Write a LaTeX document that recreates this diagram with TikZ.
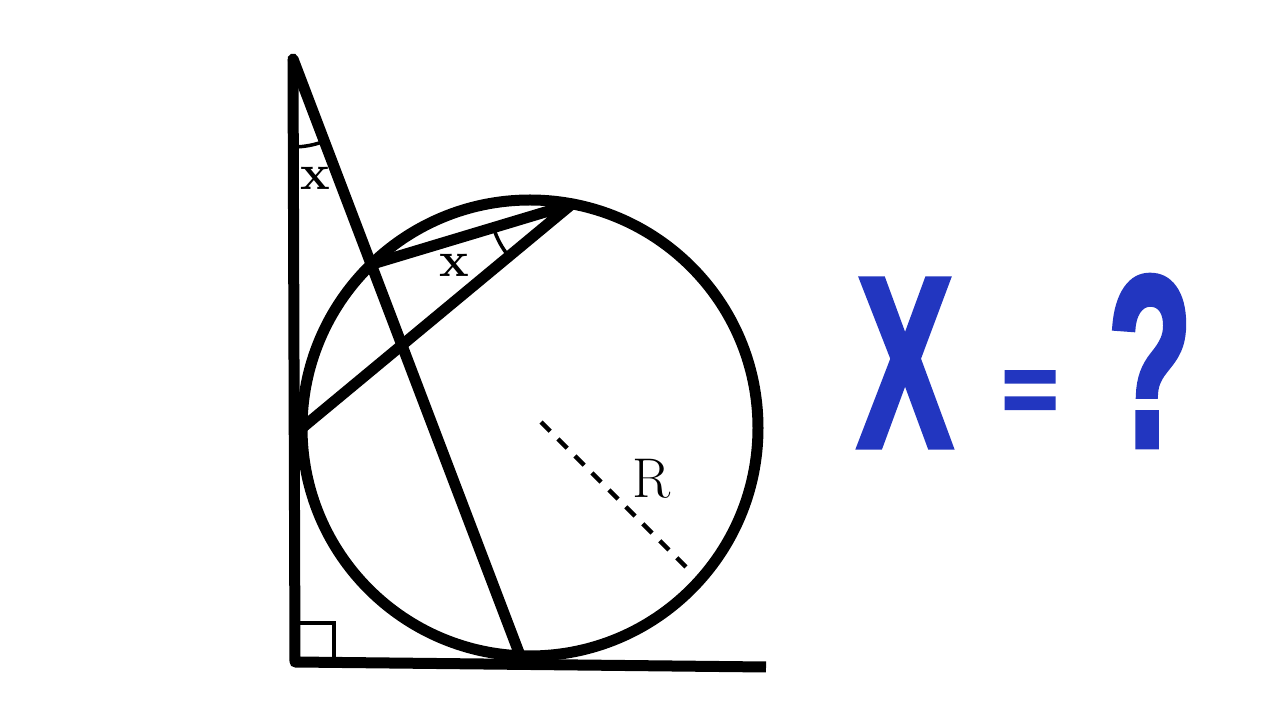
\documentclass[tikz,border=0pt]{standalone}
\usepackage{fontspec}
\newfontfamily\bluefont[FakeBold=3]{Liberation Sans}
\usetikzlibrary{intersections,angles}
\definecolor{qblue}{RGB}{34,54,192}
\tikzset{
  thickline/.style={line width=11pt, line cap=round, line join=round},
  anglemark/.style={draw, line width=3.5pt},
  bigsign/.style={inner sep=0pt, text=qblue, font=\bluefont\bfseries},
  lbl/.style={inner sep=0pt}
}
\begin{document}
\begin{tikzpicture}[x=1pt,y=1pt]
\useasboundingbox (0,0) rectangle (1280,720);
\fill[white] (0,0) rectangle (1280,720);
% points
\coordinate (A) at (293,661);
\coordinate (B) at (295,58);
\coordinate (C) at (766,53);
\coordinate (O) at (530,292);
\coordinate (T) at (521,62);
\coordinate (L) at (302,292);
\coordinate (P) at (572,516);
\coordinate (S) at (334,97);
\coordinate (D1) at (541,298);
\coordinate (D2) at (686,153);
% circle
\draw[thickline, name path=circ] (O) circle[radius=228pt];
% legs
\draw[thickline, line cap=butt] (A) -- (B) -- (C);
% slanted line
\draw[thickline, name path=slant] (A) -- (T);
\path[name intersections={of=circ and slant, by={Q}}];
% chords
\draw[thickline] (L) -- (P) -- (Q);
% angle marks
\pic[anglemark, angle radius=88pt] {angle=B--A--T};
\pic[anglemark, angle radius=82pt] {angle=Q--P--L};
% right angle
\draw[line width=4pt] (B) rectangle (S);
% radius
\draw[line width=4.5pt, dash pattern=on 13pt off 11pt] (D1) -- (D2);
% labels
\node[lbl, font=\fontsize{50}{50}\selectfont\bfseries] (x1) at (315,542) {x};
\node[lbl, font=\fontsize{50}{50}\selectfont\bfseries] (x2) at (454,455) {x};
\node[lbl, font=\fontsize{56}{56}\selectfont] (r) at (652,241) {R};
% blue text
\node[bigsign] (bx) at (905,357) {\resizebox{94pt}{166pt}{X}};
\node[bigsign] (beq) at (1030,323) {\resizebox{56pt}{51pt}{=}};
\node[bigsign] (bq) at (1150,359) {\resizebox{84pt}{169pt}{?}};
\end{tikzpicture}
\end{document}
